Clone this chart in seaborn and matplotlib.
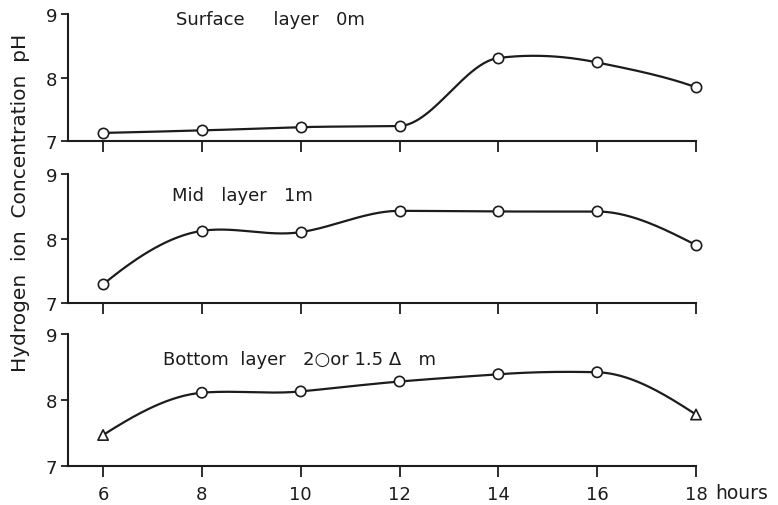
import numpy as np
import pandas as pd
import seaborn as sns
import matplotlib.pyplot as plt

# hours of sampling
hours = [6, 8, 10, 12, 14, 16, 18]

# pH
ph_surface = [7.13, 7.17, 7.22, 7.24, 8.31, 8.24, 7.85]
ph_mid = [7.29, 8.12, 8.10, 8.43, 8.42, 8.42, 7.90]
ph_bottom = [7.47, 8.11, 8.13, 8.28, 8.39, 8.42, 7.78]

# depth marker per bottom sample: circle = 2 m, triangle = 1.5 m
bottom_depth = ['1.5', '2', '2', '2', '2', '2', '1.5']

titles = ['Surface     layer   0m', 'Mid   layer   1m', 'Bottom  layer   2\u25cbor 1.5 \u0394   m']
y_ticks = [7, 8, 9]

INK = '#1c1c1c'


def akima(x, y, n=300):
    # smooth curve through the points, like a drafted french-curve line
    x = np.asarray(x, float)
    y = np.asarray(y, float)
    s = np.diff(y) / np.diff(x)
    s = np.concatenate([[3 * s[0] - 2 * s[1], 2 * s[0] - s[1]], s,
                        [2 * s[-1] - s[-2], 3 * s[-1] - 2 * s[-2]]])
    m = np.empty(len(x))
    for i in range(len(x)):
        s0, s1, s2, s3 = s[i], s[i + 1], s[i + 2], s[i + 3]
        w1, w2 = abs(s3 - s2), abs(s1 - s0)
        m[i] = (s1 + s2) / 2 if w1 + w2 == 0 else (w1 * s1 + w2 * s2) / (w1 + w2)
    xs = np.linspace(x[0], x[-1], n)
    k = np.clip(np.searchsorted(x, xs) - 1, 0, len(x) - 2)
    h = x[k + 1] - x[k]
    t = (xs - x[k]) / h
    ys = ((2 * t**3 - 3 * t**2 + 1) * y[k] + (t**3 - 2 * t**2 + t) * h * m[k]
          + (-2 * t**3 + 3 * t**2) * y[k + 1] + (t**3 - t**2) * h * m[k + 1])
    return xs, ys


sns.set_style('ticks')
plt.rcParams['font.family'] = ['DejaVu Sans']

fig = plt.figure(figsize=(7.78, 5.06), dpi=100)
left, width = 0.0874, 0.8072
panels = [(0.719, 0.251), (0.399, 0.255), (0.077, 0.261)]
axes = [fig.add_axes([left, b, width, h]) for b, h in panels]

series = [ph_surface, ph_mid, ph_bottom]
title_pos = [(0.172, 0.96), (0.166, 0.837), (0.151, 0.81)]

for i, (ax, vals) in enumerate(zip(axes, series)):
    xs, ys = akima(hours, vals)
    curve = pd.DataFrame({'hour': xs, 'pH': ys})
    sns.lineplot(data=curve, x='hour', y='pH', ax=ax, color=INK, lw=1.6, zorder=2)

    pts = pd.DataFrame({'hour': hours, 'pH': vals})
    if i == 2:
        pts['depth'] = bottom_depth
        sns.scatterplot(data=pts, x='hour', y='pH', style='depth',
                        markers={'2': 'o', '1.5': '^'}, s=55, facecolor='white',
                        edgecolor=INK, linewidth=1.2, ax=ax, zorder=3, legend=False,
                        clip_on=False)
    else:
        sns.scatterplot(data=pts, x='hour', y='pH', marker='o', s=55, facecolor='white',
                        edgecolor=INK, linewidth=1.2, ax=ax, zorder=3, legend=False,
                        clip_on=False)

    ax.set_xlim(5.29, 18)
    ax.set_ylim(7, 9)
    ax.set_xticks(hours)
    ax.set_yticks(y_ticks)
    ax.set_xlabel('')
    ax.set_ylabel('')
    sns.despine(ax=ax)
    for sp in ('left', 'bottom'):
        ax.spines[sp].set_linewidth(1.5)
        ax.spines[sp].set_color(INK)
    ax.tick_params(axis='x', length=8, width=1.3, color=INK, direction='out',
                   labelsize=13, pad=6, labelcolor=INK)
    ax.tick_params(axis='y', length=5, width=1.3, color=INK, direction='out',
                   labelsize=13, pad=3, labelcolor=INK)
    if i < 2:
        ax.tick_params(axis='x', labelbottom=False)

    tx, ty = title_pos[i]
    ax.text(tx, ty, titles[i], transform=ax.transAxes, ha='left', va='center',
            fontsize=13, color=INK)

axes[2].text(18.38, -0.2, 'hours', transform=axes[2].get_xaxis_transform(),
             ha='left', va='center', fontsize=13.5, color=INK)

fig.text(0.026, 0.6, 'Hydrogen  ion  Concentration  pH', rotation=90,
         ha='center', va='center', fontsize=14.5, color=INK)

fig.savefig('out.png', dpi=100, facecolor='white')
